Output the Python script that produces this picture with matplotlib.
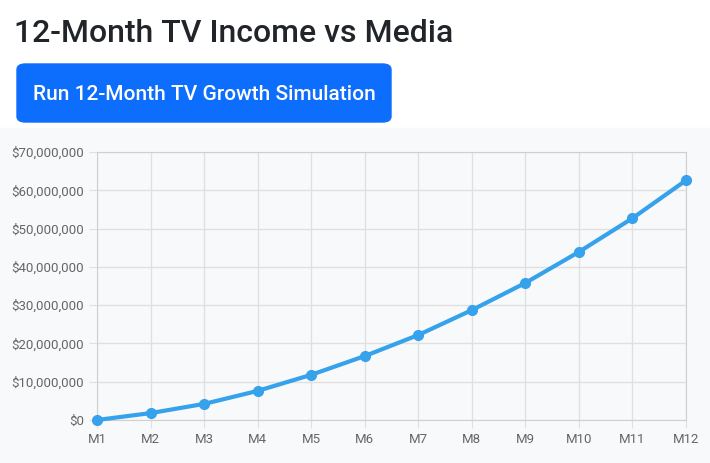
import matplotlib
matplotlib.use("Agg")
import matplotlib.pyplot as plt
from matplotlib.patches import FancyBboxPatch, Rectangle
from matplotlib.ticker import FuncFormatter

months = ["M1","M2","M3","M4","M5","M6","M7","M8","M9","M10","M11","M12"]
income = [0, 1.8e6, 4.2e6, 7.6e6, 11.8e6, 16.7e6, 22.2e6, 28.7e6, 35.8e6, 43.9e6, 52.7e6, 62.6e6]

plt.rcParams['font.family'] = ['Roboto', 'DejaVu Sans']
fig = plt.figure(figsize=(7.1, 4.63), dpi=100)
W, H = 710, 463
fig.patches.append(Rectangle((0, 0), 1, 1 - 128/H, transform=fig.transFigure, color="#f8f9fa", zorder=-10))
fig.text(14/W, 1 - 33/H, "12-Month TV Income vs Media", fontsize=23, fontweight="medium", color="#212529", va="center", ha="left")
fig.patches.append(FancyBboxPatch((17/W, 1 - 122/H), 374/W, 58/H, boxstyle="round,pad=0,rounding_size=0.012",
                                  transform=fig.transFigure, color="#0d6efd", zorder=1))
fig.text(204/W, 1 - 94/H, "Run 12-Month TV Growth Simulation", fontsize=15, fontweight="medium", color="white", va="center", ha="center", zorder=2)

ax = fig.add_axes([97/W, 1 - 420/H, 589/W, 268/H])
ax.set_zorder(5)
ax.set_facecolor("#f8f9fa")
x = list(range(len(months)))
ax.plot(x, income, color="#36a2eb", lw=3, marker="o", ms=7, zorder=3, clip_on=False)
ax.set_xlim(0, 11)
ax.set_ylim(0, 70e6)
ax.set_yticks([i * 10e6 for i in range(8)])
ax.yaxis.set_major_formatter(FuncFormatter(lambda v, p: f"${v:,.0f}"))
ax.set_xticks(x)
ax.set_xticklabels(months)
ax.grid(True, color="#e0e0e0", lw=1)
for s in ax.spines.values():
    s.set_color("#d0d0d0")
ax.tick_params(colors="#666666", labelsize=9.5, length=6, color="#e0e0e0")
fig.savefig("out.png", dpi=100)
